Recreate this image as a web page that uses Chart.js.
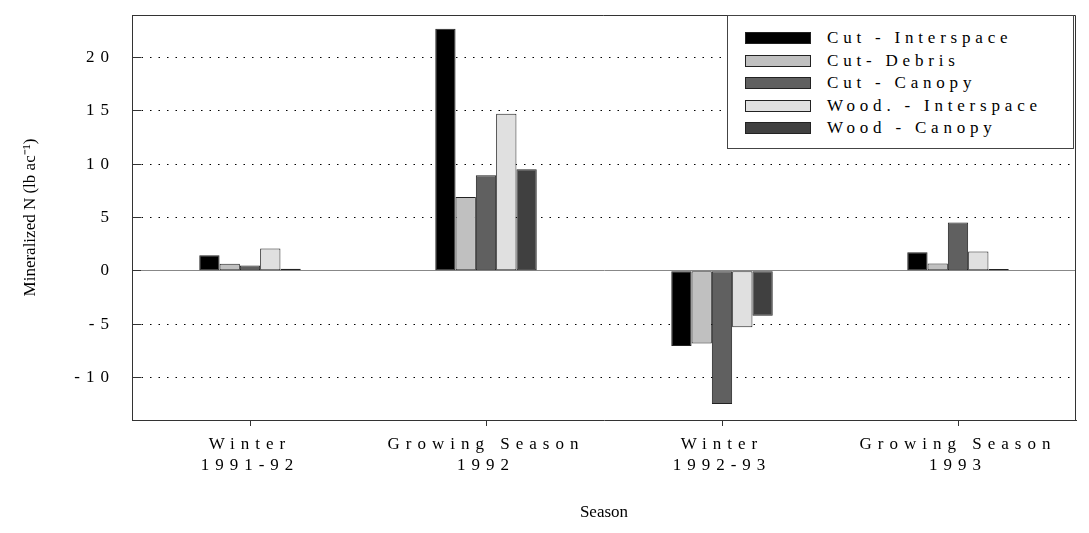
<!DOCTYPE html>
<html>
<head>
<meta charset="utf-8">
<title>Mineralized N by season</title>
<script src="https://cdn.jsdelivr.net/npm/chart.js@4.4.0/dist/chart.umd.min.js"></script>
<style>
  body { margin: 0; background: #fff; }
  .wrap { position: relative; width: 1089px; height: 533px; }
  #legend {
    position: absolute; left: 727px; top: 15px; width: 347px; height: 134px;
    box-sizing: border-box; border: 1px solid #444; background: #fff;
    padding: 11px 0 0 17px;
    font-family: 'Liberation Serif', 'Times New Roman', serif; font-size: 17px; color: #000;
  }
  #legend .row { display: flex; align-items: center; height: 22.5px; }
  #legend .swatch { width: 66px; height: 12px; box-sizing: border-box; border: 1px solid #222; margin-right: 16px; }
  #legend .name { letter-spacing: 4.8px; white-space: nowrap; }
</style>
</head>
<body>
<div class="wrap">
  <canvas id="mineral-n" width="1089" height="533"></canvas>
  <div id="legend"></div>
</div>
<script>
// Musim dan tahun pengamatan
var seasons = ['Winter', 'Growing Season', 'Winter', 'Growing Season'];
var years = ['1991-92', '1992', '1992-93', '1993'];

// N termineralisasi (lb/ac) per perlakuan
var cutInterspace = [1.45, 22.7, -7.05, 1.75];
var cutDebris = [0.67, 6.93, -6.83, 0.69];
var cutCanopy = [0.49, 8.96, -12.5, 4.53];
var woodInterspace = [2.1, 14.74, -5.3, 1.82];
var woodCanopy = [0.2, 9.52, -4.21, 0.16];

var seriesNames = ['Cut - Interspace', 'Cut- Debris', 'Cut - Canopy', 'Wood. - Interspace', 'Wood - Canopy'];
var seriesColors = ['#000000', '#c0c0c0', '#606060', '#e0e0e0', '#404040'];
var seriesValues = [cutInterspace, cutDebris, cutCanopy, woodInterspace, woodCanopy];

// Label sumbu y
var yTicks = [-10, -5, 0, 5, 10, 15, 20];

Chart.defaults.font.family = "'Liberation Serif', 'Times New Roman', serif";
Chart.defaults.color = '#000';

var datasets = seriesNames.map(function(name, i) {
  return {
    label: name,
    data: seriesValues[i],
    backgroundColor: seriesColors[i],
    borderColor: '#222',
    borderWidth: 1,
    borderSkipped: false,
    barPercentage: 1,
    categoryPercentage: 0.43
  };
});

// Label tick digambar setelah batang (ticks.z = 1), jadi spasi huruf lebar hanya kena label tick
var spacedTicks = {
  id: 'spacedTicks',
  afterDatasetsDraw: function(chart) { chart.ctx.letterSpacing = '6px'; },
  afterDraw: function(chart) { chart.ctx.letterSpacing = '0px'; }
};

// Garis atas dan kanan supaya area plot tertutup kotak
var plotFrame = {
  id: 'plotFrame',
  afterDraw: function(chart) {
    var a = chart.chartArea;
    var ctx = chart.ctx;
    var top = Math.round(a.top) + 0.5;
    var right = Math.round(a.right) - 0.5;
    ctx.save();
    ctx.strokeStyle = '#333';
    ctx.lineWidth = 1;
    ctx.beginPath();
    ctx.moveTo(a.left, top);
    ctx.lineTo(right, top);
    ctx.lineTo(right, a.bottom);
    ctx.stroke();
    ctx.restore();
  }
};

var isZero = function(ctx) { return ctx.tick && ctx.tick.value === 0; };

new Chart(document.getElementById('mineral-n'), {
  type: 'bar',
  data: {
    labels: seasons.map(function(s, i) { return [s, years[i]]; }),
    datasets: datasets
  },
  options: {
    responsive: false,
    animation: false,
    layout: { padding: { top: 15, right: 13, left: 0, bottom: 0 } },
    plugins: {
      legend: { display: false },
      tooltip: { enabled: false }
    },
    scales: {
      x: {
        afterFit: function(scale) {
          scale.height = 113;
          scale.paddingLeft = 0;
          scale.paddingRight = 0;
        },
        grid: { drawOnChartArea: false, offset: false, tickLength: 6, color: '#333' },
        border: { color: '#333' },
        ticks: { z: 1, padding: 8, maxRotation: 0, autoSkip: false, font: { size: 17, lineHeight: 1.25 } },
        title: { display: true, text: 'Season', font: { size: 17 }, padding: { top: 0, bottom: 10 } }
      },
      y: {
        min: -14,
        max: 24,
        afterBuildTicks: function(scale) {
          scale.ticks = yTicks.map(function(v) { return { value: v }; });
        },
        afterFit: function(scale) {
          scale.width = 132;
          scale.paddingTop = 0;
          scale.paddingBottom = 0;
        },
        grid: {
          color: function(ctx) { return isZero(ctx) ? '#888' : '#000'; },
          tickLength: -9,
          tickColor: '#333',
          tickBorderDash: []
        },
        border: {
          color: '#333',
          dash: function(ctx) { return isZero(ctx) ? [] : [1.5, 7]; }
        },
        ticks: { z: 1, padding: 26, font: { size: 17 } },
        title: { display: true, text: 'Mineralized N (lb ac⁻¹)', font: { size: 17 }, padding: { top: 20, bottom: 0 } }
      }
    }
  },
  plugins: [spacedTicks, plotFrame]
});

// Legenda HTML di pojok kanan atas area plot
var legend = document.getElementById('legend');
seriesNames.forEach(function(name, i) {
  var row = document.createElement('div');
  row.className = 'row';
  var swatch = document.createElement('span');
  swatch.className = 'swatch';
  swatch.style.background = seriesColors[i];
  var text = document.createElement('span');
  text.className = 'name';
  text.textContent = name;
  row.appendChild(swatch);
  row.appendChild(text);
  legend.appendChild(row);
});
</script>
</body>
</html>
